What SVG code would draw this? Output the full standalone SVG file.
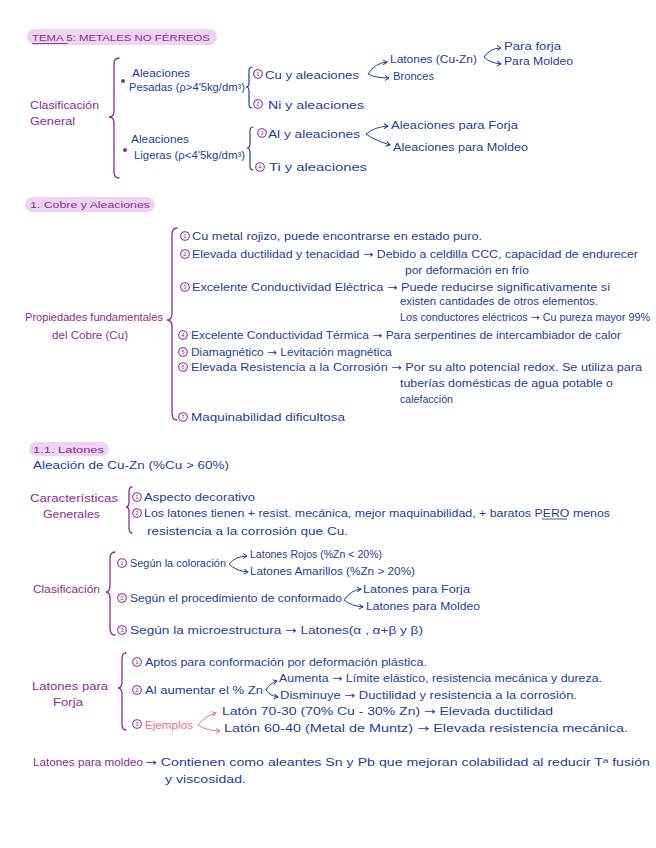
<svg xmlns="http://www.w3.org/2000/svg" width="656" height="848" viewBox="0 0 656 848">
<style>
text{font-family:"Liberation Sans","DejaVu Sans",sans-serif;font-size:10px}
.ar{font-family:"DejaVu Sans",sans-serif}
.b{fill:#1d4291}
.p{fill:#8c2b93}
.r{fill:#ef6f72}
.h{font-size:9px}
.pill{fill:#eed3f4}
.brp{fill:none;stroke:#8c2b93;stroke-width:1.3;stroke-linecap:round}
.brb{fill:none;stroke:#1d4291;stroke-width:1.2;stroke-linecap:round}
.c{fill:none;stroke:#8c2b93;stroke-width:1.1}
.d{font-size:6px;fill:#8c2b93;text-anchor:middle}
.cb{fill:none;stroke:#1d4291;stroke-width:1}
.cr{fill:none;stroke:#ef6f72;stroke-width:1}
.ul{stroke:#8c2b93;stroke-width:0.9}
.ulb{stroke:#1d4291;stroke-width:0.9}
</style>
<defs>
<marker id="ab" markerUnits="userSpaceOnUse" markerWidth="6" markerHeight="6" refX="5" refY="3" orient="auto"><path d="M1,0.5 L5,3 L1,5.5" fill="none" stroke="#1d4291" stroke-width="1"/></marker>
<marker id="ar" markerUnits="userSpaceOnUse" markerWidth="6" markerHeight="6" refX="5" refY="3" orient="auto"><path d="M1,0.5 L5,3 L1,5.5" fill="none" stroke="#ef6f72" stroke-width="1"/></marker>
</defs>

<!-- Header -->
<g id="title">
<rect class="pill" x="27" y="29" width="190" height="16" rx="8"/>
<text class="p h" x="32" y="41" textLength="178" lengthAdjust="spacingAndGlyphs">TEMA 5: METALES NO FÉRREOS</text>
<line class="ul" x1="32" y1="43.5" x2="68" y2="43.5"/>
</g>

<g id="clasif-general">
<text class="p" x="30" y="109" textLength="69" lengthAdjust="spacingAndGlyphs">Clasificación</text>
<text class="p" x="30" y="125" textLength="45" lengthAdjust="spacingAndGlyphs">General</text>
<path class="brp" d="M119,58 Q114,58 114,64 L114,111 Q114,117 109,117 Q114,117 114,123 L114,172 Q114,178 119,178"/>
</g>

<g id="pesadas">
<circle cx="123" cy="81" r="2" fill="#8c2b93"/>
<text class="b" x="132" y="77" textLength="58" lengthAdjust="spacingAndGlyphs">Aleaciones</text>
<text class="b" x="129" y="91" textLength="116" lengthAdjust="spacingAndGlyphs">Pesadas (ρ&gt;4'5kg/dm³)</text>
<path class="brb" d="M252,67 Q249,67 249,71 L249,83 Q249,87 246,87 Q249,87 249,91 L249,104 Q249,108 252,108"/>
</g>

<g id="ligeras">
<circle cx="125" cy="150" r="2" fill="#8c2b93"/>
<text class="b" x="131" y="143" textLength="58" lengthAdjust="spacingAndGlyphs">Aleaciones</text>
<text class="b" x="134" y="159" textLength="111" lengthAdjust="spacingAndGlyphs">Ligeras (ρ&lt;4'5kg/dm³)</text>
<path class="brb" d="M253,127 Q250,127 250,131 L250,144 Q250,148 247,148 Q250,148 250,152 L250,166 Q250,170 253,170"/>
</g>

<g id="cu">
<circle class="c" cx="258" cy="74" r="4.3"/><text class="d" x="258" y="76.2">1</text>
<text class="b" x="265" y="79" textLength="94" lengthAdjust="spacingAndGlyphs">Cu y aleaciones</text>
</g>
<g id="ni">
<circle class="c" cx="258" cy="104" r="4.3"/><text class="d" x="258" y="106.2">2</text>
<text class="b" x="268" y="109" textLength="96" lengthAdjust="spacingAndGlyphs">Ni y aleaciones</text>
</g>
<g id="al">
<circle class="c" cx="262" cy="133" r="4.3"/><text class="d" x="262" y="135.2">3</text>
<text class="b" x="268" y="138" textLength="92" lengthAdjust="spacingAndGlyphs">Al y aleaciones</text>
</g>
<g id="ti">
<circle class="c" cx="260" cy="167" r="4.3"/><text class="d" x="260" y="169.2">4</text>
<text class="b" x="269" y="171" textLength="98" lengthAdjust="spacingAndGlyphs">Ti y aleaciones</text>
</g>
<g id="latones-top">
<text class="b" x="390" y="63" textLength="87" lengthAdjust="spacingAndGlyphs">Latones (Cu-Zn)</text>
</g>
<g id="bronces">
<text class="b" x="393" y="80" textLength="41" lengthAdjust="spacingAndGlyphs">Bronces</text>
</g>
<g id="para-forja">
<text class="b" x="504" y="50" textLength="57" lengthAdjust="spacingAndGlyphs">Para forja</text>
</g>
<g id="para-moldeo">
<text class="b" x="504" y="65" textLength="69" lengthAdjust="spacingAndGlyphs">Para Moldeo</text>
</g>
<g id="al-forja">
<text class="b" x="391" y="129" textLength="127" lengthAdjust="spacingAndGlyphs">Aleaciones para Forja</text>
</g>
<g id="al-moldeo">
<text class="b" x="393" y="151" textLength="135" lengthAdjust="spacingAndGlyphs">Aleaciones para Moldeo</text>
</g>

<!-- Section 1 -->
<g id="sec1">
<rect class="pill" x="25" y="197" width="130" height="15" rx="7.5"/>
<text class="p h" x="30" y="208" textLength="120" lengthAdjust="spacingAndGlyphs">1. Cobre y Aleaciones</text>
</g>
<g id="propiedades">
<text class="p" x="25" y="321" textLength="138" lengthAdjust="spacingAndGlyphs">Propiedades fundamentales</text>
<text class="p" x="52" y="339" textLength="76" lengthAdjust="spacingAndGlyphs">del Cobre (Cu)</text>
<path class="brp" d="M177,228 Q172,228 172,235 L172,313 Q172,320 167,320 Q172,320 172,327 L172,413 Q172,420 177,420"/>
</g>
<g id="p1">
<circle class="c" cx="185" cy="236" r="4.3"/><text class="d" x="185" y="238.2">1</text>
<text class="b" x="192" y="240" textLength="290" lengthAdjust="spacingAndGlyphs">Cu metal rojizo, puede encontrarse en estado puro.</text>
</g>
<g id="p2">
<circle class="c" cx="185" cy="254" r="4.3"/><text class="d" x="185" y="256.2">2</text>
<text class="b" x="192" y="258" textLength="446" lengthAdjust="spacingAndGlyphs">Elevada ductilidad y tenacidad <tspan class="ar">→</tspan> Debido a celdilla CCC, capacidad de endurecer</text>
<text class="b" x="405" y="274" textLength="124" lengthAdjust="spacingAndGlyphs">por deformación en frío</text>
</g>
<g id="p3">
<circle class="c" cx="185" cy="287" r="4.3"/><text class="d" x="185" y="289.2">3</text>
<text class="b" x="192" y="291" textLength="418" lengthAdjust="spacingAndGlyphs">Excelente Conductividad Eléctrica <tspan class="ar">→</tspan> Puede reducirse significativamente si</text>
<text class="b" x="400" y="305" textLength="198" lengthAdjust="spacingAndGlyphs">existen cantidades de otros elementos.</text>
<text class="b" x="400" y="321" textLength="250" lengthAdjust="spacingAndGlyphs">Los conductores eléctricos <tspan class="ar">→</tspan> Cu pureza mayor 99%</text>
</g>
<g id="p4">
<circle class="c" cx="183" cy="335" r="4.3"/><text class="d" x="183" y="337.2">4</text>
<text class="b" x="191" y="339" textLength="430" lengthAdjust="spacingAndGlyphs">Excelente Conductividad Térmica <tspan class="ar">→</tspan> Para serpentines de intercambiador de calor</text>
</g>
<g id="p5">
<circle class="c" cx="183" cy="352" r="4.3"/><text class="d" x="183" y="354.2">5</text>
<text class="b" x="191" y="356" textLength="201" lengthAdjust="spacingAndGlyphs">Diamagnético <tspan class="ar">→</tspan> Levitación magnética</text>
</g>
<g id="p6">
<circle class="c" cx="183" cy="367" r="4.3"/><text class="d" x="183" y="369.2">6</text>
<text class="b" x="191" y="371" textLength="451" lengthAdjust="spacingAndGlyphs">Elevada Resistencia a la Corrosión <tspan class="ar">→</tspan> Por su alto potencial redox. Se utiliza para</text>
<text class="b" x="400" y="387" textLength="213" lengthAdjust="spacingAndGlyphs">tuberías domésticas de agua potable o</text>
<text class="b" x="400" y="403" textLength="53" lengthAdjust="spacingAndGlyphs">calefacción</text>
</g>
<g id="p7">
<circle class="c" cx="183" cy="417" r="4.3"/><text class="d" x="183" y="419.2">7</text>
<text class="b" x="191" y="421" textLength="154" lengthAdjust="spacingAndGlyphs">Maquinabilidad dificultosa</text>
</g>

<!-- Section 1.1 -->
<g id="sec11">
<rect class="pill" x="29" y="442" width="80" height="14" rx="7"/>
<text class="p h" x="33" y="453" textLength="71" lengthAdjust="spacingAndGlyphs">1.1. Latones</text>
<text class="b" x="33" y="469" font-size="11" textLength="196" lengthAdjust="spacingAndGlyphs">Aleación de Cu-Zn (%Cu &gt; 60%)</text>
</g>
<g id="caracteristicas">
<text class="p" x="30" y="502" textLength="88" lengthAdjust="spacingAndGlyphs">Características</text>
<text class="p" x="43" y="518" textLength="57" lengthAdjust="spacingAndGlyphs">Generales</text>
<path class="brp" d="M132,487 Q129,487 129,492 L129,502 Q129,507 126,507 Q129,507 129,512 L129,528 Q129,533 132,533"/>
</g>
<g id="c1">
<circle class="c" cx="137" cy="497" r="4.3"/><text class="d" x="137" y="499.2">1</text>
<text class="b" x="144" y="501" textLength="111" lengthAdjust="spacingAndGlyphs">Aspecto decorativo</text>
</g>
<g id="c2">
<circle class="c" cx="137" cy="513" r="4.3"/><text class="d" x="137" y="515.2">2</text>
<text class="b" x="144" y="517" textLength="466" lengthAdjust="spacingAndGlyphs">Los latones tienen + resist. mecánica, mejor maquinabilidad, + baratos PERO menos</text>
<line class="ulb" x1="542" y1="519" x2="567" y2="519"/>
<text class="b" x="147" y="535" textLength="201" lengthAdjust="spacingAndGlyphs">resistencia a la corrosión que Cu.</text>
</g>

<g id="clasificacion">
<text class="p" x="33" y="593" textLength="67" lengthAdjust="spacingAndGlyphs">Clasificación</text>
<path class="brp" d="M115,552 Q110,552 110,559 L110,585 Q110,592 106,592 Q110,592 110,599 L110,628 Q110,635 115,635"/>
</g>
<g id="k1">
<circle class="c" cx="122" cy="563" r="4.3"/><text class="d" x="122" y="565.2">1</text>
<text class="b" x="130" y="567" textLength="96" lengthAdjust="spacingAndGlyphs">Según la coloración</text>
</g>
<g id="rojos"><text class="b" x="250" y="558" textLength="132" lengthAdjust="spacingAndGlyphs">Latones Rojos (%Zn &lt; 20%)</text></g>
<g id="amarillos"><text class="b" x="250" y="575" textLength="165" lengthAdjust="spacingAndGlyphs">Latones Amarillos (%Zn &gt; 20%)</text></g>
<g id="k2">
<circle class="c" cx="122" cy="598" r="4.3"/><text class="d" x="122" y="600.2">2</text>
<text class="b" x="130" y="602" textLength="212" lengthAdjust="spacingAndGlyphs">Según el procedimiento de conformado</text>
</g>
<g id="lat-forja"><text class="b" x="363" y="593" textLength="107" lengthAdjust="spacingAndGlyphs">Latones para Forja</text></g>
<g id="lat-moldeo"><text class="b" x="366" y="610" textLength="114" lengthAdjust="spacingAndGlyphs">Latones para Moldeo</text></g>
<g id="k3">
<circle class="c" cx="122" cy="630" r="4.3"/><text class="d" x="122" y="632.2">3</text>
<text class="b" x="130" y="634" textLength="293" lengthAdjust="spacingAndGlyphs">Según la microestructura <tspan class="ar">→</tspan> Latones(α , α+β y β)</text>
</g>

<g id="forja">
<text class="p" x="32" y="690" textLength="76" lengthAdjust="spacingAndGlyphs">Latones para</text>
<text class="p" x="53" y="706" textLength="30" lengthAdjust="spacingAndGlyphs">Forja</text>
<path class="brp" d="M126,653 Q122,653 122,659 L122,682 Q122,688 118,688 Q122,688 122,694 L122,724 Q122,730 126,730"/>
</g>
<g id="f1">
<circle class="c" cx="137" cy="662" r="4.3"/><text class="d" x="137" y="664.2">1</text>
<text class="b" x="145" y="666" textLength="282" lengthAdjust="spacingAndGlyphs">Aptos para conformación por deformación plástica.</text>
</g>
<g id="f2">
<circle class="c" cx="137" cy="690" r="4.3"/><text class="d" x="137" y="692.2">2</text>
<text class="b" x="145" y="694" textLength="118" lengthAdjust="spacingAndGlyphs">Al aumentar el % Zn</text>
</g>
<g id="aumenta"><text class="b" x="279" y="682" textLength="323" lengthAdjust="spacingAndGlyphs">Aumenta <tspan class="ar">→</tspan> Límite elástico, resistencia mecánica y dureza.</text></g>
<g id="disminuye"><text class="b" x="280" y="699" textLength="297" lengthAdjust="spacingAndGlyphs">Disminuye <tspan class="ar">→</tspan> Ductilidad y resistencia a la corrosión.</text></g>
<g id="f3">
<circle class="c" cx="137" cy="724" r="4.3"/><text class="d" x="137" y="726.2">3</text>
<text class="r" x="145" y="729" textLength="48" lengthAdjust="spacingAndGlyphs">Ejemplos</text>
</g>
<g id="laton7030"><text class="b" x="222" y="715" textLength="331" lengthAdjust="spacingAndGlyphs">Latón 70-30 (70% Cu - 30% Zn) <tspan class="ar">→</tspan> Elevada ductilidad</text></g>
<g id="laton6040"><text class="b" x="224" y="732" textLength="404" lengthAdjust="spacingAndGlyphs">Latón 60-40 (Metal de Muntz) <tspan class="ar">→</tspan> Elevada resistencia mecánica.</text></g>

<g id="moldeo">
<text class="p" x="33" y="766" textLength="110" lengthAdjust="spacingAndGlyphs">Latones para moldeo</text>
<text class="b" x="145" y="766" textLength="505" lengthAdjust="spacingAndGlyphs"><tspan class="ar">→</tspan> Contienen como aleantes Sn y Pb que mejoran colabilidad al reducir Tª fusión</text>
<text class="b" x="165" y="783" textLength="81" lengthAdjust="spacingAndGlyphs">y viscosidad.</text>
</g>

<!-- Connectors -->
<g id="connectors">
<path class="cb" d="M368,74 Q375,63 387,62" marker-end="url(#ab)"/>
<path class="cb" d="M368,74 Q375,78 389,78" marker-end="url(#ab)"/>
<path class="cb" d="M484,57 Q490,48 501,48" marker-end="url(#ab)"/>
<path class="cb" d="M484,57 Q490,63 501,64" marker-end="url(#ab)"/>
<path class="cb" d="M366,134 Q374,127 388,126" marker-end="url(#ab)"/>
<path class="cb" d="M366,134 Q374,140 390,145" marker-end="url(#ab)"/>
<path class="cb" d="M229,564 Q236,556 247,556" marker-end="url(#ab)"/>
<path class="cb" d="M229,564 Q236,571 248,572" marker-end="url(#ab)"/>
<path class="cb" d="M344,600 Q351,590 361,589" marker-end="url(#ab)"/>
<path class="cb" d="M344,600 Q351,606 363,607" marker-end="url(#ab)"/>
<path class="cb" d="M266,690 Q270,683 277,681" marker-end="url(#ab)"/>
<path class="cb" d="M266,690 Q270,696 278,697" marker-end="url(#ab)"/>
<path class="cr" d="M198,725 Q205,716 216,713" marker-end="url(#ar)"/>
<path class="cr" d="M198,725 Q207,731 220,731" marker-end="url(#ar)"/>
</g>
</svg>
